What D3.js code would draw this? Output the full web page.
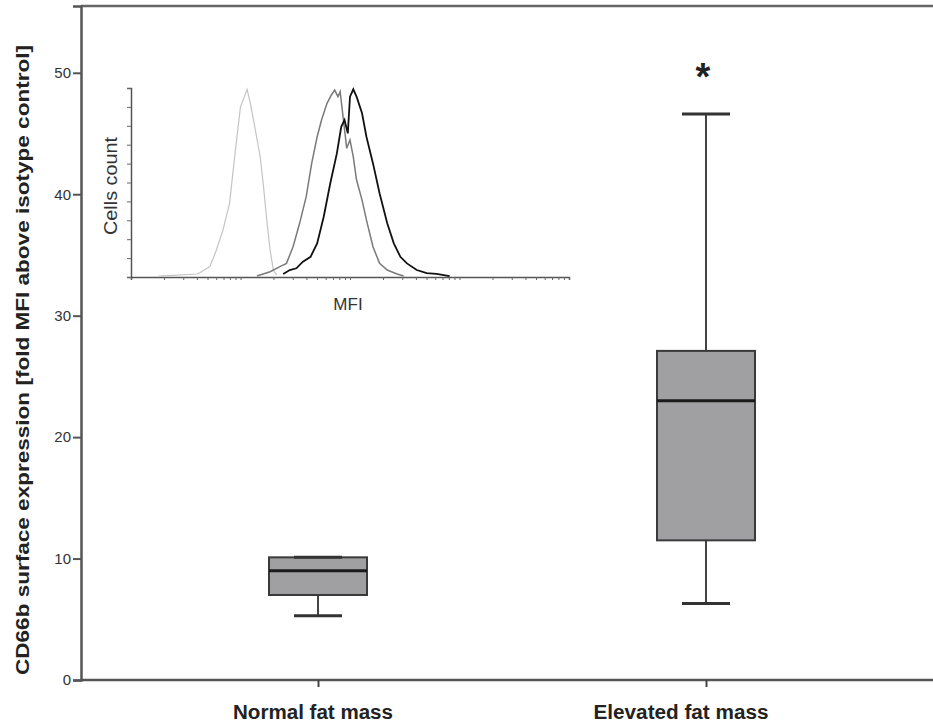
<!DOCTYPE html>
<html>
<head>
<meta charset="utf-8">
<script src="https://cdn.jsdelivr.net/npm/d3@7"></script>
<style>
  body { margin: 0; background: #fff; }
  text { font-family: "Liberation Sans", Arial, sans-serif; }
</style>
</head>
<body>
<svg id="chart" width="933" height="722"></svg>
<script>
// box plot values
var groups = ["Normal fat mass", "Elevated fat mass"];
var whiskerLow = [5.3, 6.3];
var q1 = [7.0, 11.5];
var median = [9.0, 23.0];
var q3 = [10.1, 27.1];
var whiskerHigh = [10.1, 46.6];
var marks = ["", "*"];
var yTicks = [0, 10, 20, 30, 40, 50];

// inset histogram: x = log10(MFI), y = % of peak count
var isoX = [0.25, 0.61, 0.72, 0.78, 0.84, 0.90, 0.95, 1.00, 1.03, 1.06, 1.09, 1.13, 1.18, 1.21, 1.24, 1.27, 1.30, 1.33];
var isoY = [0.5, 1.6, 5.5, 14.3, 24.9, 39, 65.4, 90.1, 94.5, 99.3, 91.9, 79.5, 63.6, 47.8, 30.2, 14.3, 3.7, 1];
var normX = [1.15, 1.27, 1.36, 1.42, 1.48, 1.54, 1.60, 1.65, 1.70, 1.74, 1.79, 1.83, 1.86, 1.89, 1.91, 1.94, 1.97, 2.00, 2.03, 2.06, 2.11, 2.15, 2.21, 2.27, 2.34, 2.43, 2.49];
var normY = [0.5, 2.8, 5.5, 7.2, 16.0, 28.4, 42.5, 60.1, 74.2, 83.1, 91.9, 96.3, 98.9, 95.4, 98.1, 83.1, 68.1, 72.5, 63.6, 51.3, 40.7, 30.2, 16.0, 7.2, 3.7, 1.6, 0.5];
var elevX = [1.39, 1.45, 1.51, 1.57, 1.64, 1.70, 1.76, 1.82, 1.88, 1.92, 1.95, 1.98, 2.00, 2.03, 2.06, 2.11, 2.15, 2.21, 2.27, 2.34, 2.40, 2.46, 2.52, 2.61, 2.70, 2.79, 2.91];
var elevY = [1.6, 3.7, 4.6, 8.1, 10.7, 17.8, 31.9, 49.6, 65.4, 79.5, 83.1, 76.0, 95.4, 99.3, 95.4, 86.6, 74.2, 60.1, 44.3, 28.4, 17.8, 10.7, 7.2, 3.7, 2.0, 1.6, 0.5];

var svg = d3.select("#chart");
var plotLeft = 81, plotRight = 933, plotTop = 6, plotBottom = 680;

var y = d3.scaleLinear().domain([0, 55.5]).range([plotBottom, plotTop]);
var x = d3.scalePoint().domain(groups).range([318, 706]);
var boxW = 98, capW = 48;

// frame
svg.append("line").attr("x1", plotLeft).attr("x2", plotRight).attr("y1", plotTop).attr("y2", plotTop)
  .attr("stroke", "#666").attr("stroke-width", 2.5);

var yAxis = svg.append("g")
  .attr("transform", "translate(" + plotLeft + ",0)")
  .call(d3.axisLeft(y).tickValues(yTicks).tickSize(8).tickPadding(2));
yAxis.select(".domain").attr("stroke", "#555").attr("stroke-width", 2.5);
yAxis.selectAll(".tick line").attr("stroke", "#555").attr("stroke-width", 2);
yAxis.selectAll(".tick text").attr("font-size", 15).attr("fill", "#333")
  .style("font-family", "Liberation Sans, Arial, sans-serif");

var xAxis = svg.append("g")
  .attr("transform", "translate(0," + plotBottom + ")")
  .call(d3.axisBottom(x).tickSize(7).tickFormat(""));
xAxis.select(".domain").attr("d", "M" + plotLeft + ",0H" + plotRight).attr("stroke", "#555").attr("stroke-width", 2.5);
xAxis.selectAll(".tick line").attr("stroke", "#444").attr("stroke-width", 2);

var labelShift = [-5, -25];
var labelLen = [160, 175];
svg.selectAll(".glabel").data(groups).enter().append("text")
  .attr("class", "glabel")
  .attr("x", function (d, i) { return x(d) + labelShift[i]; })
  .attr("y", 719)
  .attr("text-anchor", "middle")
  .attr("font-size", 20).attr("font-weight", "bold").attr("fill", "#222")
  .attr("textLength", function (d, i) { return labelLen[i]; })
  .attr("lengthAdjust", "spacingAndGlyphs")
  .text(function (d) { return d; });

svg.append("text")
  .attr("transform", "translate(29,360) rotate(-90)")
  .attr("text-anchor", "middle")
  .attr("font-size", 19).attr("font-weight", "bold").attr("fill", "#222")
  .attr("textLength", 630).attr("lengthAdjust", "spacingAndGlyphs")
  .text("CD66b surface expression [fold MFI above isotype control]");

// boxes
var box = svg.selectAll(".box").data(groups).enter().append("g").attr("class", "box");
box.append("line")
  .attr("x1", function (d) { return x(d); }).attr("x2", function (d) { return x(d); })
  .attr("y1", function (d, i) { return y(whiskerLow[i]); })
  .attr("y2", function (d, i) { return y(whiskerHigh[i]); })
  .attr("stroke", "#444").attr("stroke-width", 2);
box.append("rect")
  .attr("x", function (d) { return x(d) - boxW / 2; })
  .attr("width", boxW)
  .attr("y", function (d, i) { return y(q3[i]); })
  .attr("height", function (d, i) { return y(q1[i]) - y(q3[i]); })
  .attr("fill", "#a0a0a3").attr("stroke", "#3a3a3a").attr("stroke-width", 2);
box.append("line")
  .attr("x1", function (d) { return x(d) - boxW / 2; }).attr("x2", function (d) { return x(d) + boxW / 2; })
  .attr("y1", function (d, i) { return y(median[i]); }).attr("y2", function (d, i) { return y(median[i]); })
  .attr("stroke", "#1a1a1a").attr("stroke-width", 3);
[whiskerLow, whiskerHigh].forEach(function (arr) {
  box.append("line")
    .attr("x1", function (d) { return x(d) - capW / 2; }).attr("x2", function (d) { return x(d) + capW / 2; })
    .attr("y1", function (d, i) { return y(arr[i]); }).attr("y2", function (d, i) { return y(arr[i]); })
    .attr("stroke", "#333").attr("stroke-width", 3);
});
box.append("text")
  .attr("x", function (d) { return x(d) - 3; })
  .attr("y", function (d, i) { return y(whiskerHigh[i]) - 24; })
  .attr("text-anchor", "middle")
  .attr("font-size", 38).attr("font-weight", "bold").attr("fill", "#222")
  .text(function (d, i) { return marks[i]; });

// inset histogram
var ix = d3.scaleLog().domain([1, 10000]).range([131, 569]);
var iy = d3.scaleLinear().domain([0, 100]).range([277, 88]);
var inset = svg.append("g");

var minorTicks = [];
[1, 10, 100, 1000].forEach(function (dec) {
  for (var k = 1; k < 10; k++) minorTicks.push(dec * k);
});
minorTicks.push(10000);
var ixAxis = inset.append("g").attr("transform", "translate(0,277)")
  .call(d3.axisBottom(ix).tickValues(minorTicks).tickSize(3).tickFormat(""));
ixAxis.select(".domain").attr("stroke", "#555").attr("stroke-width", 1.5);
ixAxis.selectAll(".tick line").attr("stroke", "#666");

var iyAxis = inset.append("g").attr("transform", "translate(131,0)")
  .call(d3.axisLeft(iy).tickValues(d3.range(0, 101, 10)).tickSize(4).tickFormat(""));
iyAxis.select(".domain").attr("stroke", "#555").attr("stroke-width", 1.5);
iyAxis.selectAll(".tick line").attr("stroke", "#666");

var line = d3.line()
  .x(function (d) { return ix(Math.pow(10, d[0])); })
  .y(function (d) { return iy(d[1]); });
var curves = [
  { xs: isoX, ys: isoY, color: "#c4c4c4", w: 1.2 },
  { xs: normX, ys: normY, color: "#7a7a7a", w: 1.5 },
  { xs: elevX, ys: elevY, color: "#111", w: 1.8 }
];
curves.forEach(function (c) {
  inset.append("path")
    .datum(c.xs.map(function (v, i) { return [v, c.ys[i]]; }))
    .attr("d", line)
    .attr("fill", "none").attr("stroke", c.color).attr("stroke-width", c.w);
});

inset.append("text").attr("x", 348).attr("y", 310).attr("text-anchor", "middle")
  .attr("font-size", 17).attr("fill", "#333").text("MFI");
inset.append("text").attr("transform", "translate(117,186) rotate(-90)")
  .attr("text-anchor", "middle").attr("font-size", 18).attr("fill", "#333")
  .attr("textLength", 98).attr("lengthAdjust", "spacingAndGlyphs")
  .text("Cells count");
</script>
</body>
</html>
